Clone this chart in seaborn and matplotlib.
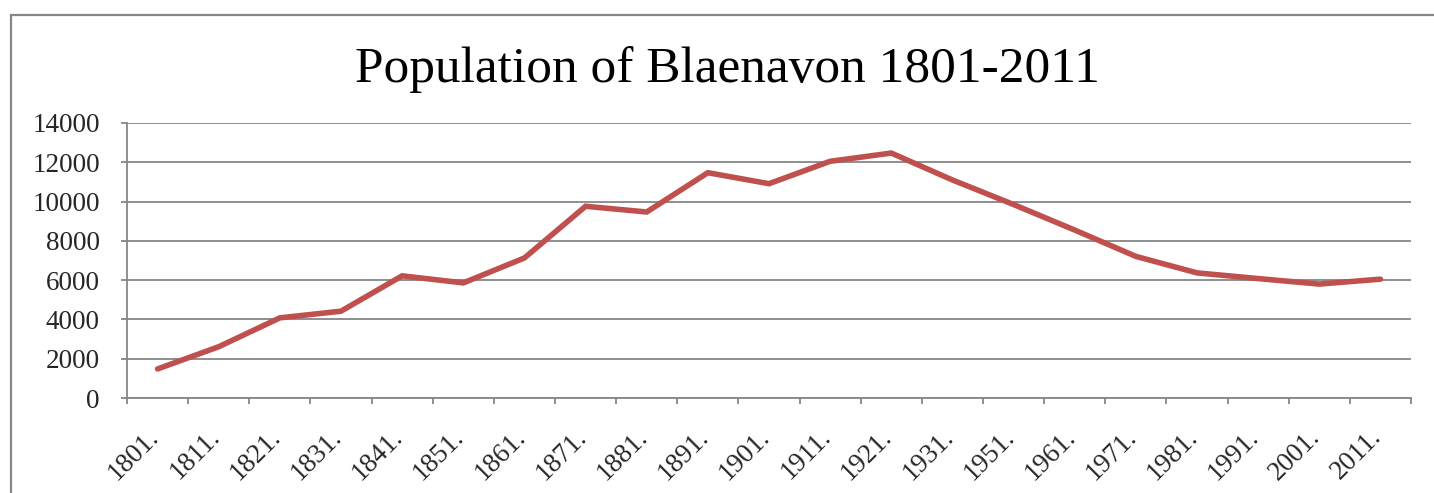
import matplotlib
import matplotlib.pyplot as plt
import matplotlib.transforms as mtransforms
import pandas as pd
import seaborn as sns
from matplotlib.patches import Rectangle

matplotlib.use("Agg")

years = [
    "1801.", "1811.", "1821.", "1831.", "1841.", "1851.", "1861.",
    "1871.", "1881.", "1891.", "1901.", "1911.", "1921.", "1931.",
    "1951.", "1961.", "1971.", "1981.", "1991.", "2001.", "2011.",
]
population = [
    1480, 2610, 4080, 4420, 6220, 5860, 7130,
    9760, 9470, 11470, 10910, 12050, 12470, 11100,
    9850, 8550, 7210, 6370, 6080, 5800, 6050,
]
y_ticks = [0, 2000, 4000, 6000, 8000, 10000, 12000, 14000]

df = pd.DataFrame({"year": years, "population": population})
df["pos"] = range(len(df))

LINE_RED = "#C0504D"
GRID_GRAY = "#868686"

sns.set_theme(style="white")
plt.rcParams["font.family"] = ["Liberation Serif", "DejaVu Serif"]

W, H = 1434, 493
fig = plt.figure(figsize=(W / 100, H / 100), dpi=100)
fig.patch.set_facecolor("white")

# outer chart frame (runs off the right and bottom edges)
fig.patches.append(
    Rectangle((11 / W, -0.1), 1.2, 1 - 15 / H + 0.1, transform=fig.transFigure,
              fill=False, edgecolor=GRID_GRAY, linewidth=1.6)
)

ax = fig.add_axes([127 / W, 1 - 398 / H, (1411 - 127) / W, (398 - 123) / H])

sns.lineplot(data=df, x="pos", y="population", color=LINE_RED,
             linewidth=4.0, ax=ax, solid_capstyle="round", solid_joinstyle="miter")

n = len(years)
ax.set_xlim(-0.5, n - 0.5)
ax.set_ylim(0, 14000)
ax.set_xlabel("")
ax.set_ylabel("")

# category boundaries as major ticks, labels on minor ticks at centers
ax.set_xticks([i - 0.5 for i in range(n + 1)])
ax.set_xticklabels([])
ax.set_xticks(range(n), minor=True)
ax.set_xticklabels(years, minor=True, rotation=45, ha="right", va="top",
                   fontsize=19.5)
ax.tick_params(axis="x", which="major", direction="out", length=4.5,
               width=1.3, color=GRID_GRAY, bottom=True)
ax.tick_params(axis="x", which="minor", length=0, pad=19)
offset = mtransforms.ScaledTranslation(6 / 100, 0, fig.dpi_scale_trans)
for lbl in ax.get_xticklabels(minor=True):
    lbl.set_transform(lbl.get_transform() + offset)

ax.set_yticks(y_ticks)
ax.set_yticklabels([str(v) for v in y_ticks], fontsize=19.5)
ax.tick_params(axis="y", direction="out", length=4.5, width=1.3,
               color=GRID_GRAY, left=True, pad=15)

ax.yaxis.grid(True, color=GRID_GRAY, linewidth=1.3)
ax.xaxis.grid(False)
ax.set_axisbelow(True)
for side in ("top", "right"):
    ax.spines[side].set_visible(False)
for side in ("left", "bottom"):
    ax.spines[side].set_color(GRID_GRAY)
    ax.spines[side].set_linewidth(1.3)

fig.text(727 / W, 1 - 82 / H, "Population of Blaenavon 1801-2011",
         ha="center", va="baseline", fontsize=37, color="black")

fig.savefig("out.png", dpi=100, facecolor="white")
plt.close(fig)
